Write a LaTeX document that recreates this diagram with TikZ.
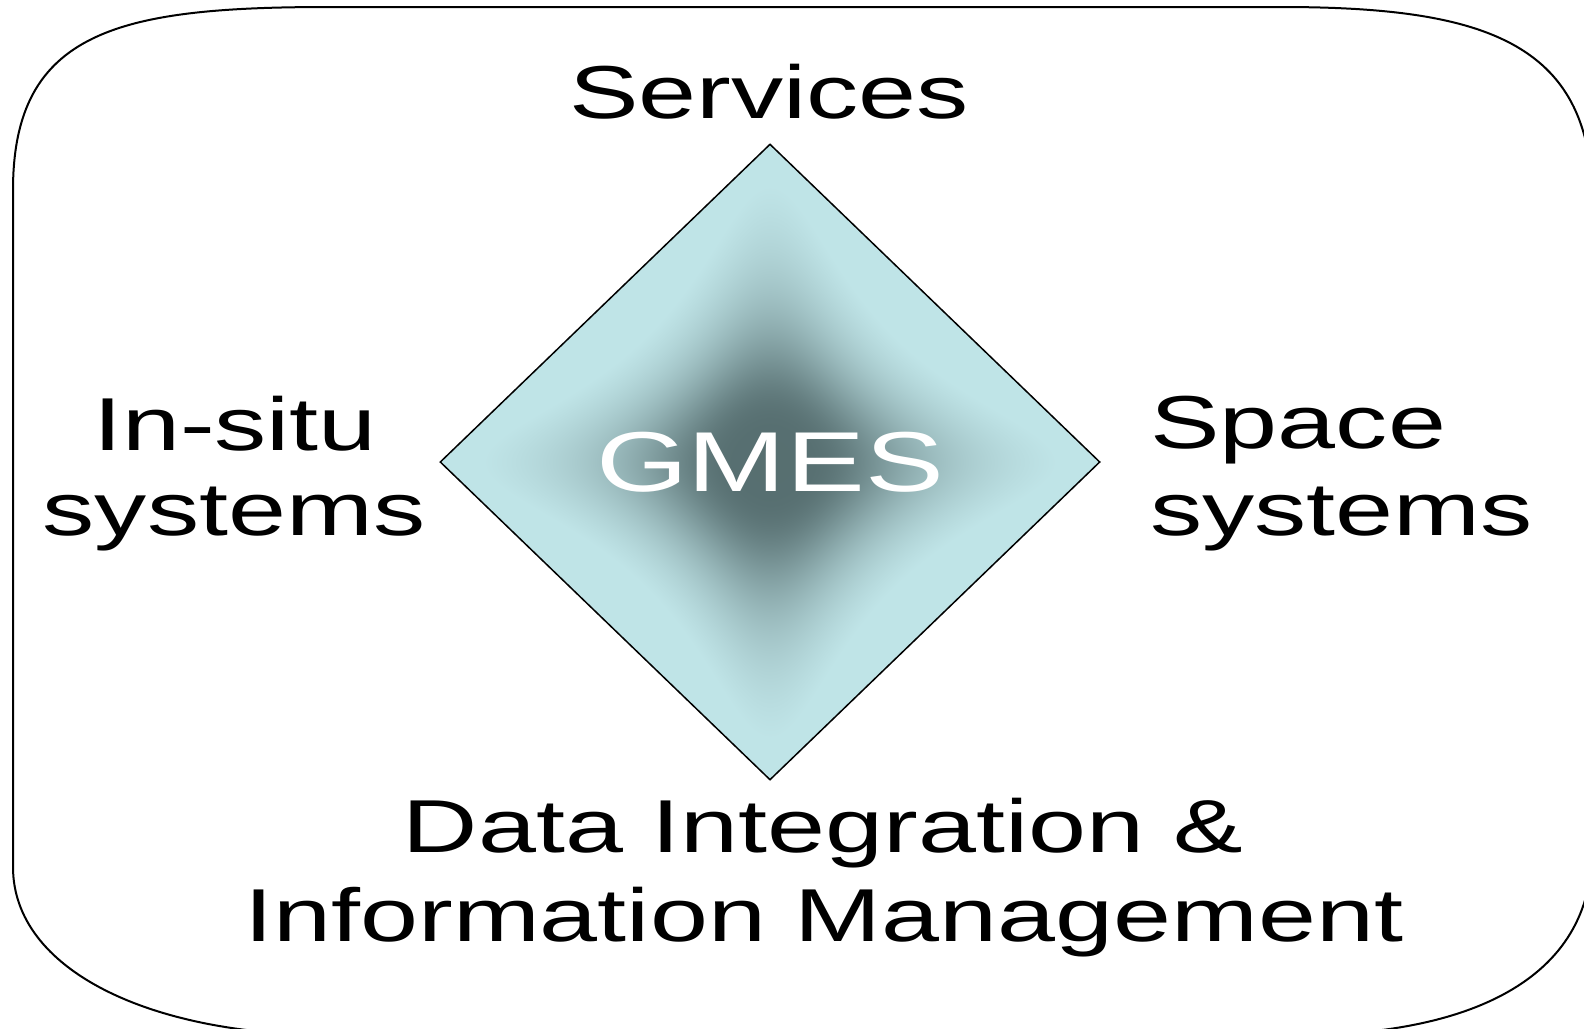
\documentclass[tikz,border=0pt]{standalone}
\usepackage{fontspec}
\setmainfont{Liberation Sans}[FakeStretch=1.39]
\usetikzlibrary{shapes.geometric}
\pgfdeclarefunctionalshading{gmesshade}{\pgfpoint{-50bp}{-50bp}}{\pgfpoint{50bp}{50bp}}{}{
abs 25 div 0.22 div dup mul 1 add exch abs 25 div 0.22 div dup mul 1 add mul 1 exch div
0.06 sub 0.94 div dup 0 lt {pop 0} if neg 1 add 3.5 exp neg 1 add
dup -0.41 mul 0.75 add exch dup -0.46 mul 0.894 add exch -0.465 mul 0.906 add
}
\begin{document}
\begin{tikzpicture}[x=0.5pt,y=-0.5pt,
  lbl/.style={font=\fontsize{37.5pt}{43pt}\selectfont, inner sep=0pt, text=black},
  frame/.style={draw=black, line width=1pt},
  core/.style={diamond, draw=black, line width=0.75pt, shading=gmesshade, shading angle=0,
    minimum width=330pt, minimum height=318pt, inner sep=0pt,
    font=\fontsize{42.5pt}{50pt}\selectfont, text=white}]
\useasboundingbox (0,0) rectangle (1584,1028);
\clip (0,0) rectangle (1584,1028);
\fill[white] (0,0) rectangle (1584,1028);
% outer rounded frame
\draw[frame] (13,190) -- (13,867)
  .. controls (13,970) and (150,1035) .. (330,1035) -- (1300,1035)
  .. controls (1450,1035) and (1592,990) .. (1592,850) -- (1592,200)
  .. controls (1592,40) and (1480,7) .. (1280,7) -- (330,7)
  .. controls (120,7) and (13,30) .. (13,190) -- cycle;
% central diamond
\node[core] (gmes) at (770,462) {GMES};
% labels
\node[lbl, anchor=base] (services) at (769,118) {Services};
\node[lbl, anchor=base] (insitu1) at (235,450) {In-situ};
\node[lbl, anchor=base] (insitu2) at (234,535) {systems};
\node[lbl, anchor=base west] (space1) at (1150,448) {Space};
\node[lbl, anchor=base west] (space2) at (1150,535) {systems};
\node[lbl, anchor=base] (data1) at (823,852) {Data Integration \&};
\node[lbl, anchor=base] (data2) at (824,941) {Information Management};
\end{tikzpicture}
\end{document}
